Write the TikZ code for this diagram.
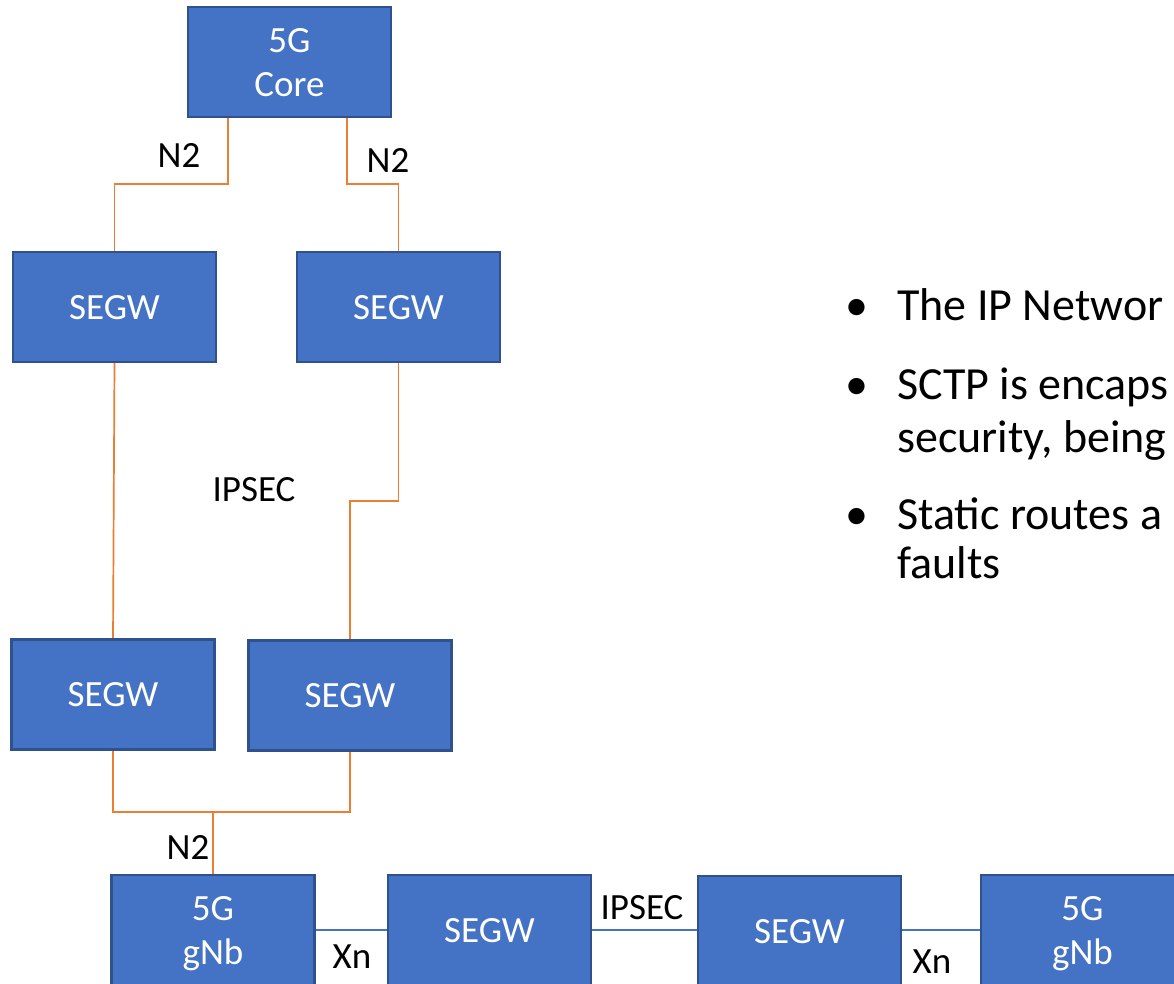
\documentclass[tikz,border=0pt]{standalone}
\usepackage{fontspec}
\setmainfont{Carlito}
\usetikzlibrary{backgrounds}

\definecolor{boxfill}{HTML}{4472C4}
\definecolor{boxedge}{HTML}{2F528F}
\definecolor{linkorange}{HTML}{ED7D31}

\newcommand\diagfont{\fontsize{37}{44}\selectfont}
\newcommand\listfont{\fontsize{46}{52}\selectfont}

\begin{document}
\begin{tikzpicture}[x=1pt,y=-1pt,
  box/.style={draw=boxedge, fill=boxfill, line width=2.5pt,
    minimum width=203pt, minimum height=110pt, inner sep=0pt, outer sep=0pt,
    text=white, align=center, font=\diagfont, text depth=0pt},
  nlink/.style={draw=linkorange, line width=1.7pt},
  xlink/.style={draw=boxfill, line width=2.8pt},
  lbl/.style={font=\diagfont, inner sep=0pt, text=black},
  item/.style={font=\listfont, inner sep=0pt, anchor=base west, text=black},
  dot/.style={font=\listfont, inner sep=0pt, anchor=base, text=black}]

\useasboundingbox (0,0) rectangle (1174,984);
\clip (0,0) rectangle (1174,984);

% core and the two upper security gateways
\node[box] (core) at (289.5,62) {5G\\Core};
\node[box] (segTL) at (114.5,307) {SEGW};
\node[box] (segTR) at (398.5,307) {SEGW};

% lower security gateways
\node[box] (segBL) at (113,694.5) {SEGW};
\node[box] (segBR) at (350,695.5) {SEGW};

% bottom row
\node[box] (gnbL) at (213,930) {5G\\gNb};
\node[box] (seg1) at (489.5,930) {SEGW};
\node[box] (seg2) at (799.5,931) {SEGW};
\node[box] (gnbR) at (1082.5,930) {5G\\gNb};

\coordinate (join) at (213,812);

\begin{scope}[on background layer]
  % N2 links from the core
  \draw[nlink] (core.south) ++(-61.5,0) -- ++(0,67) -| (segTL.north);
  \draw[nlink] (core.south) ++(57.5,0) -- ++(0,67) -| (segTR.north);
  % IPSEC tunnels between gateway pairs
  \draw[nlink] (segTL.south) -- (segBL.north);
  \draw[nlink] (segTR.south) -- ++(0,139) -| (segBR.north);
  % N2 towards the gNb
  \draw[nlink] (segBL.south) |- (join) -| (segBR.south);
  \draw[nlink] (join) -- (gnbL.north);
  % Xn path along the bottom
  \draw[xlink] (gnbL.east) -- (seg1.west);
  \draw[xlink] (seg1.east) -- (seg2.west |- seg1.east);
  \draw[xlink] (seg2.east |- gnbR.west) -- (gnbR.west);
\end{scope}

% link labels
\node[lbl] (n2a) at (179,155) {N2};
\node[lbl] (n2b) at (388,160) {N2};
\node[lbl] (ipsecA) at (254,490) {IPSEC};
\node[lbl] (n2c) at (188,847) {N2};
\node[lbl] (xnA) at (352,957) {Xn};
\node[lbl] (ipsecB) at (642,908) {IPSEC};
\node[lbl] (xnB) at (932,962) {Xn};

% bullet list
\node[dot] (b1) at (857,320) {•};
\node[item] (t1) at (897,320) {The IP Networ};
\node[dot] (b2) at (857,399) {•};
\node[item] (t2) at (897,399) {SCTP is encaps};
\node[item] (t3) at (897,452) {security, being};
\node[dot] (b3) at (857,529) {•};
\node[item] (t4) at (897,529) {Static routes a};
\node[item] (t5) at (897,578) {faults};
\end{tikzpicture}
\end{document}
